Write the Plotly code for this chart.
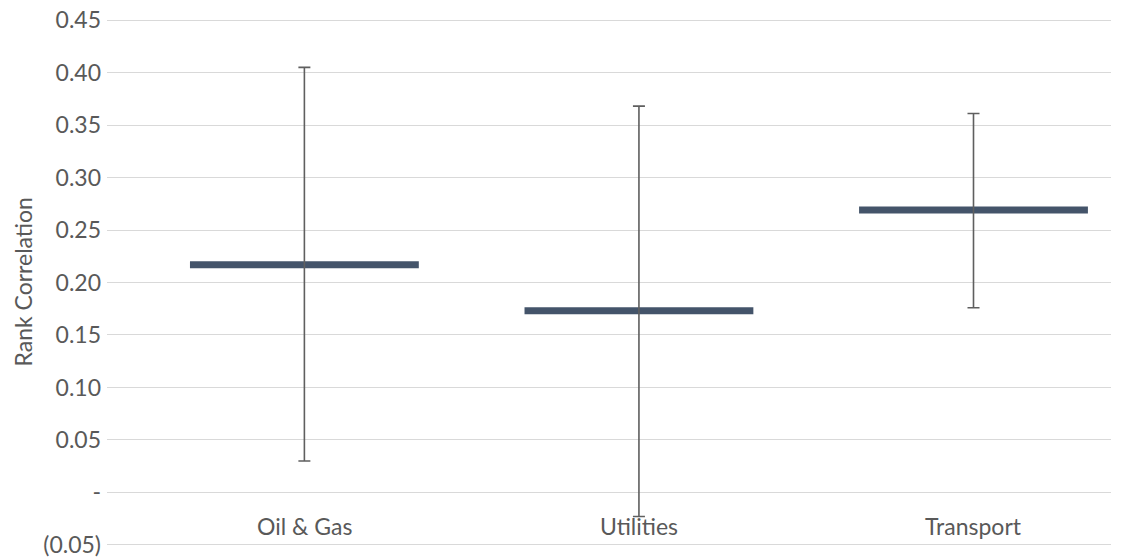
import plotly.graph_objects as go

categories = ["Oil & Gas", "Utilities", "Transport"]
mean_values = [0.217, 0.173, 0.269]
upper_values = [0.405, 0.368, 0.361]
lower_values = [0.030, -0.023, 0.176]
tick_values = [-0.05, 0.0, 0.05, 0.10, 0.15, 0.20, 0.25, 0.30, 0.35, 0.40, 0.45]
tick_labels = ["(0.05)", "-", "0.05", "0.10", "0.15", "0.20", "0.25", "0.30", "0.35", "0.40", "0.45"]

FONT = "Lato, Open Sans, sans-serif"
TXT = "#595959"
FS = 23
half = 0.342

fig = go.Figure()

# horizontal mean bars
for i, (c, v) in enumerate(zip(categories, mean_values)):
    fig.add_trace(go.Scatter(
        x=[i - half, i + half], y=[v, v], mode="lines",
        line=dict(color="#44546A", width=7),
        showlegend=False, hoverinfo="skip"))

# error bars
idx = list(range(len(categories)))
fig.add_trace(go.Scatter(
    x=idx, y=mean_values, mode="markers",
    marker=dict(size=1, color="rgba(0,0,0,0)"),
    error_y=dict(type="data", symmetric=False,
                 array=[u - m for u, m in zip(upper_values, mean_values)],
                 arrayminus=[m - l for m, l in zip(mean_values, lower_values)],
                 color="#5f5f5f", thickness=1.6, width=6),
    showlegend=False, hoverinfo="skip"))

annotations = []
for i, c in enumerate(categories):
    annotations.append(dict(x=i, y=0, xref="x", yref="y", text=c, showarrow=False,
                            yanchor="middle", yshift=-34, font=dict(family=FONT, size=FS, color=TXT)))
annotations.append(dict(x=-85 / 1004, y=0.5, xref="paper", yref="paper", text="Rank Correlation",
                        textangle=-90, showarrow=False, xanchor="center", yanchor="middle",
                        font=dict(family=FONT, size=FS, color=TXT)))

fig.update_layout(
    width=1135, height=560,
    margin=dict(l=99, r=32, t=10, b=21),
    plot_bgcolor="white", paper_bgcolor="white",
    annotations=annotations,
    xaxis=dict(range=[-0.590, 2.411], showgrid=False, zeroline=False, showticklabels=False,
               showline=False, fixedrange=True),
    yaxis=dict(range=[-0.052, 0.452], tickvals=tick_values, ticktext=tick_labels,
               showgrid=True, gridcolor="#d9d9d9", gridwidth=1,
               zeroline=True, zerolinecolor="#d9d9d9", zerolinewidth=1,
               showline=False, ticks="", automargin=False, ticklabelstandoff=5,
               ticklabeloverflow="allow",
               tickfont=dict(family=FONT, size=FS, color=TXT)),
)

fig.write_html("out.html")
